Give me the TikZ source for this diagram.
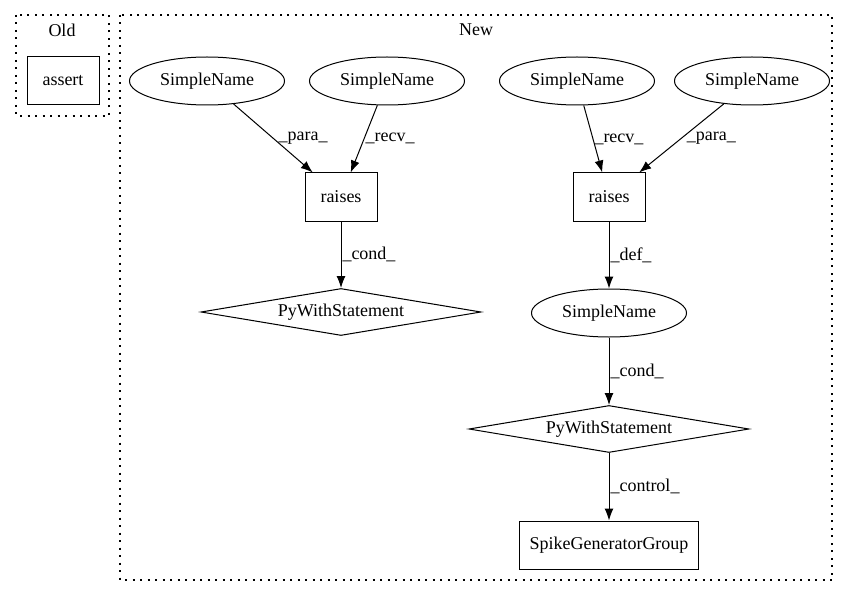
\documentclass[tikz,border=0pt]{standalone}
\usepackage{fontspec}
\setmainfont{Liberation Serif}
\usetikzlibrary{shapes.geometric,arrows.meta}

\begin{document}
\begin{tikzpicture}[x=1pt,y=-1pt,
                    every node/.style={font=\fontsize{18}{21}\selectfont},
                    cluster/.style={dash pattern=on 2pt off 5.5pt,line width=1.3pt},
                    namenode/.style={draw,ellipse,line width=1pt,minimum width=155pt,minimum height=48pt,inner sep=0pt},
                    callnode/.style={draw,rectangle,line width=1pt,minimum width=72pt,minimum height=48pt,inner xsep=10pt},
                    withnode/.style={draw,diamond,line width=1pt,aspect=6,minimum width=280pt,minimum height=47pt,inner sep=0pt},
                    edge/.style={-{Latex[length=12pt,width=9pt]},line width=1pt},
                    elabel/.style={anchor=west,inner sep=1pt}]
  \path[use as bounding box] (0,0) rectangle (848,596);

  % clusters
  \draw[cluster] (16,15) rectangle (109,116);
  \node (oldlabel) at (62,30) {Old};
  \draw[cluster] (120,15) rectangle (832,580);
  \node (newlabel) at (476,30) {New};

  \node[callnode] (assert) at (63,81) {assert};

  % left group
  \node[namenode] (name1) at (207,81) {SimpleName};
  \node[namenode] (name2) at (387,81) {SimpleName};
  \node[callnode] (raises1) at (341,197) {raises};
  \node[withnode] (with1) at (341,312) {PyWithStatement};

  % right group
  \node[namenode] (name3) at (577,81) {SimpleName};
  \node[namenode] (name4) at (752,81) {SimpleName};
  \node[callnode] (raises2) at (609,197) {raises};
  \node[namenode] (name5) at (609,313) {SimpleName};
  \node[withnode] (with2) at (609,429) {PyWithStatement};
  \node[callnode] (spike) at (609,545) {SpikeGeneratorGroup};

  \draw[edge] (name1) -- (raises1) node[elabel,midway,xshift=4pt] {\_para\_};
  \draw[edge] (name2) -- (raises1) node[elabel,midway] {\_recv\_};
  \draw[edge] (raises1) -- (with1) node[elabel,midway] {\_cond\_};
  \draw[edge] (name3) -- (raises2) node[elabel,midway] {\_recv\_};
  \draw[edge] (name4) -- (raises2) node[elabel,midway,xshift=4pt] {\_para\_};
  \draw[edge] (raises2) -- (name5) node[elabel,midway] {\_def\_};
  \draw[edge] (name5) -- (with2) node[elabel,midway] {\_cond\_};
  \draw[edge] (with2) -- (spike) node[elabel,midway] {\_control\_};
\end{tikzpicture}
\end{document}
